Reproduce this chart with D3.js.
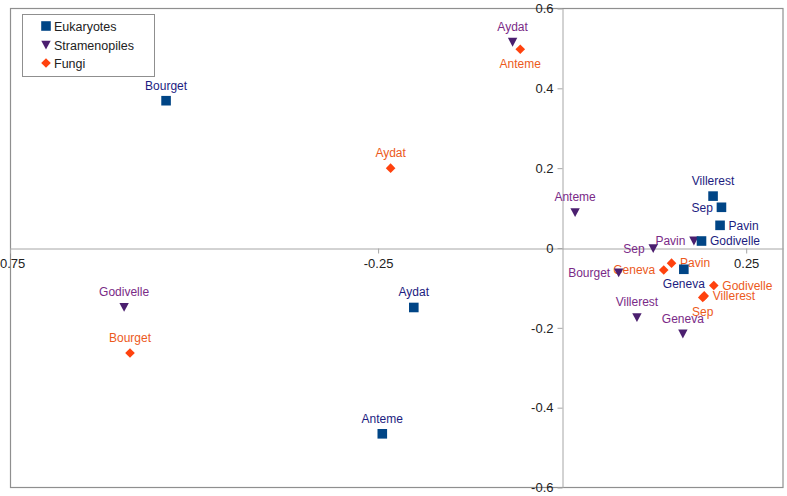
<!DOCTYPE html>
<html><head><meta charset="utf-8">
<script src="https://cdn.jsdelivr.net/npm/d3@7"></script>
<style>body{margin:0;background:#fff}svg{display:block}text{font-family:"Liberation Sans",Arial,sans-serif}</style>
</head><body>
<script>
const sites = ["Bourget","Aydat","Anteme","Villerest","Sep","Pavin","Godivelle","Geneva"];
const seriesNames = ["Eukaryotes","Stramenopiles","Fungi"];
const eukX = [-0.538,-0.2015,-0.2443,0.205,0.2164,0.2145,0.1893,0.1653];
const eukY = [0.369,-0.149,-0.4655,0.130,0.102,0.0568,0.0175,-0.0533];
const strX = [0.0768,-0.0673,0.0176,0.1016,0.1237,0.179,-0.595,0.164];
const strY = [-0.062,0.516,0.089,-0.174,-0.001,0.018,-0.148,-0.215];
const funX = [-0.587,-0.233,-0.0569,0.193,0.191,0.1486,0.206,0.138];
const funY = [-0.263,0.200,0.498,-0.120,-0.124,-0.038,-0.094,-0.055];
// label placement per point
const eukPos = ["above","above","above","above","left","right","right","below"];
const strPos = ["left","above","above","above","left","left","above","above"];
const funPos = ["above","above","below","right","below","right","right","left"];
const xTicks = [-0.75,-0.25,0.25];
const yTicks = [-0.6,-0.4,-0.2,0,0.2,0.4,0.6];

const W=787,H=496;
const svg=d3.select("body").append("svg").attr("width",W).attr("height",H);
const L=10,R=783,T=8.5,B=487.5;
const x=d3.scaleLinear().domain([-0.75,0.3]).range([L,R]);
const y=d3.scaleLinear().domain([-0.6,0.6]).range([B,T]);

// frame
svg.append("rect").attr("x",L+0.5).attr("y",T).attr("width",R-L-0.5).attr("height",B-T)
  .attr("fill","none").attr("stroke","#8f8f8f").attr("stroke-width",1.2);

const axisColor="#a6a6a6";
// x axis
const gx=svg.append("g").attr("transform",`translate(0,${Math.round(y(0))+0.5})`)
  .call(d3.axisBottom(x).tickValues(xTicks).tickSize(5).tickSizeOuter(0).tickPadding(5)
    .tickFormat(d=>String(d).replace(/^(-?)0\./,"$10.")));
gx.select(".domain").attr("stroke",axisColor);
gx.selectAll(".tick line").attr("stroke",axisColor);
gx.selectAll(".tick text").attr("font-size",13).attr("fill","#222").attr("font-family","Liberation Sans, Arial, sans-serif");
// y axis
const gy=svg.append("g").attr("transform",`translate(${Math.round(x(0))+0.5},0)`)
  .call(d3.axisLeft(y).tickValues(yTicks).tickSize(5).tickSizeOuter(0).tickPadding(4)
    .tickFormat(d=>d3.format(".1f")(d).replace("−","-").replace(/^0\.0$/,"0").replace(/^-?0\.0$/,"0")));
gy.select(".domain").attr("stroke",axisColor);
gy.selectAll(".tick line").attr("stroke",axisColor);
gy.selectAll(".tick text").attr("font-size",13).attr("fill","#222").attr("font-family","Liberation Sans, Arial, sans-serif");

const sq=(s)=>`M${-s},${-s}H${s}V${s}H${-s}Z`;
const tri=()=>"M-4.7,-4.2L4.7,-4.2L0,4.6Z";
const dia=()=>"M0,-4.8L4.8,0L0,4.8L-4.8,0Z";
const series=[
  {name:"Eukaryotes",xs:eukX,ys:eukY,pos:eukPos,fill:"#004586",lab:"#1c1c80",path:sq(4.8)},
  {name:"Stramenopiles",xs:strX,ys:strY,pos:strPos,fill:"#4b1f6f",lab:"#7a2a87",path:tri()},
  {name:"Fungi",xs:funX,ys:funY,pos:funPos,fill:"#ff420e",lab:"#ec5a1c",path:dia()}
];
// labels
series.forEach(s=>{
  sites.forEach((name,i)=>{
    const px=x(s.xs[i]),py=y(s.ys[i]),p=s.pos[i];
    let tx=px,ty=py,anchor="middle";
    if(p==="above"){ty=py-11;}
    else if(p==="below"){ty=py+19;}
    else if(p==="left"){tx=px-8.5;ty=py+4.3;anchor="end";}
    else {tx=px+8.5;ty=py+4.3;anchor="start";}
    svg.append("text").attr("x",tx).attr("y",ty).attr("text-anchor",anchor)
      .attr("font-size",12).attr("fill",s.lab).text(name);
  });
});
// markers
[series[1],series[0],series[2]].forEach(s=>{
  svg.append("g").selectAll("path").data(sites).join("path")
    .attr("transform",(d,i)=>`translate(${x(s.xs[i])},${y(s.ys[i])})`)
    .attr("d",s.path).attr("fill",s.fill);
});
// legend
const lg=svg.append("g");
lg.append("rect").attr("x",22.5).attr("y",14.5).attr("width",132).attr("height",62)
  .attr("fill","#fff").attr("stroke","#8f8f8f");
const ly=[26,45,63];
series.forEach((s,i)=>{
  lg.append("path").attr("transform",`translate(46,${ly[i]})`).attr("d",s.path).attr("fill",s.fill);
  lg.append("text").attr("x",54).attr("y",ly[i]+4.5).attr("font-size",12.5).attr("fill","#222").text(s.name);
});
</script>
</body></html>
